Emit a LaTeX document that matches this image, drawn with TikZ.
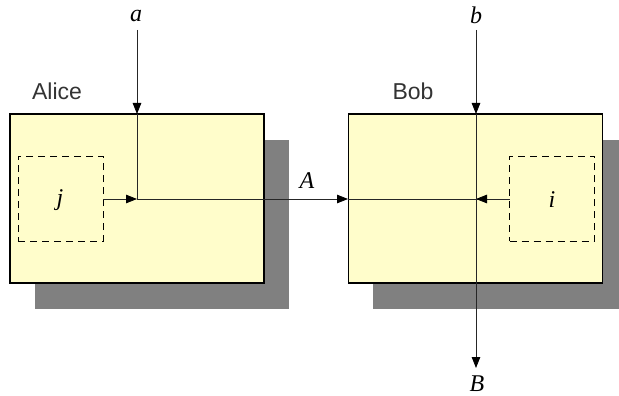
\documentclass[tikz,border=0pt]{standalone}
\usepackage{fontspec}
\setmainfont{Liberation Serif}
\setsansfont{Liberation Sans}
\usetikzlibrary{arrows.meta}
\definecolor{boxfill}{HTML}{FFFDCB}
\definecolor{shadowgray}{HTML}{808080}
\tikzset{
  party/.style={draw=black,line width=1.4pt,fill=boxfill,minimum width=254pt,minimum height=169pt,inner sep=0pt,outer sep=0pt},
  shadowbox/.style={fill=shadowgray,draw=none,minimum width=254pt,minimum height=169pt,inner sep=0pt,outer sep=0pt},
  secret/.style={draw=black,dashed,dash pattern=on 7pt off 5pt,line width=0.8pt,minimum width=85pt,minimum height=85pt,inner sep=0pt,outer sep=0pt},
  wire/.style={draw=black!85,line width=0.8pt},
  arr/.style={wire,-{Triangle[length=11pt,width=8.5pt,color=black]}},
  varlbl/.style={font=\fontsize{24}{26}\selectfont\itshape,inner sep=0pt},
  partylbl/.style={font=\fontsize{23}{26}\selectfont\sffamily,text=black!80,inner sep=0pt}
}
\begin{document}
\begin{tikzpicture}[x=1pt,y=-1pt]
\useasboundingbox (0,0) rectangle (619,396);
% shadows
\node[shadowbox] (ashadow) at (162,224) {};
\node[shadowbox] (bshadow) at (500,224) {};
% boxes
\node[party] (alice) at (137,198.5) {};
\node[party] (bob) at (475.5,198.5) {};
\node[secret] (jbox) at (60.5,198.5) {};
\node[secret] (ibox) at (552,198.5) {};
% labels
\node[partylbl] (alicelbl) at (57,91) {Alice};
\node[partylbl] (boblbl) at (413,91) {Bob};
\node[varlbl] (alab) at (136,16) {a};
\node[varlbl] (blab) at (476,15) {b};
\node[varlbl] (Alab) at (307,181) {A};
\node[varlbl] (Blab) at (477,383.5) {B};
\node[varlbl] (jlab) at (60,200) {j};
\node[varlbl] (ilab) at (552,200) {i};
% coordinates
\coordinate (atop) at (137,30);
\coordinate (ain) at (137,114);
\coordinate (ajoin) at (137,199);
\coordinate (btop) at (476,30);
\coordinate (bin) at (476,114);
\coordinate (bjoin) at (476,199);
\coordinate (bout) at (476,368);
\coordinate (bleft) at (348,199);
% connectors
\draw[arr] (atop) -- (ain);
\draw[wire] (ain) -- (ajoin);
\draw[arr] (jbox.east |- ajoin) -- (ajoin);
\draw[arr] (ajoin) -- (bleft);
\draw[wire] (bleft) -- (ibox.west |- bjoin);
\draw[arr] (ibox.west |- bjoin) -- (bjoin);
\draw[arr] (btop) -- (bin);
\draw[arr] (bin) -- (bout);
\end{tikzpicture}
\end{document}
